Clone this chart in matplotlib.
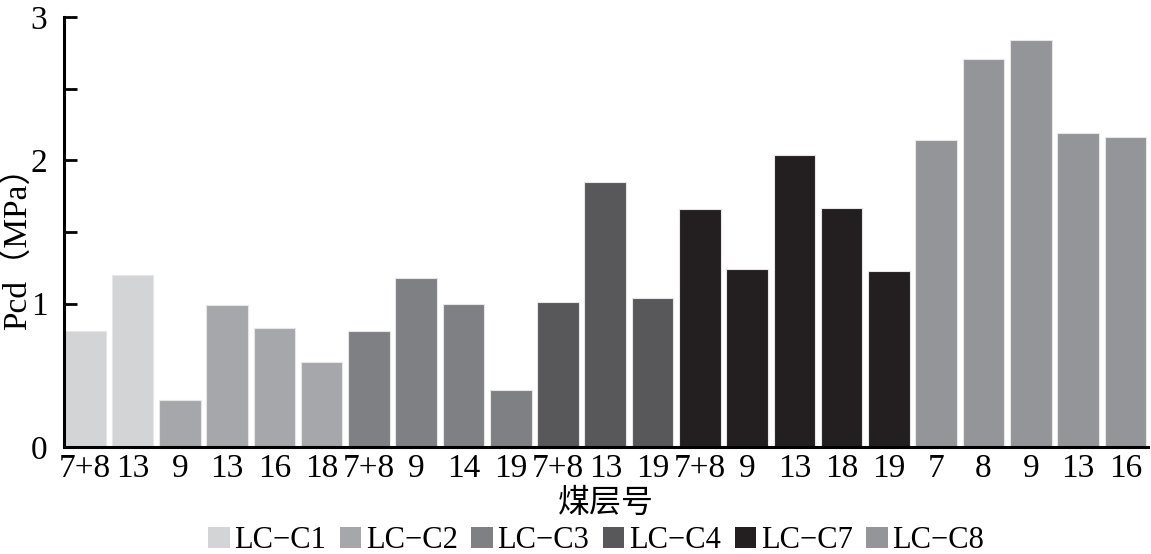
import numpy as np
import matplotlib.pyplot as plt
from matplotlib.patches import Patch
from matplotlib.ticker import MultipleLocator

plt.rcParams['font.family'] = ['Liberation Serif', 'Noto Sans CJK SC']

# seam numbers under each bar
seams = ['7+8', '13',
         '9', '13', '16', '18',
         '7+8', '9', '14', '19',
         '7+8', '13', '19',
         '7+8', '9', '13', '18', '19',
         '7', '8', '9', '13', '16']
# which borehole each bar belongs to
wells = ['LC−C1'] * 2 + ['LC−C2'] * 4 + ['LC−C3'] * 4 + ['LC−C4'] * 3 + ['LC−C7'] * 5 + ['LC−C8'] * 5
pcd = [0.81, 1.20,
       0.33, 0.99, 0.83, 0.59,
       0.81, 1.18, 1.00, 0.40,
       1.01, 1.85, 1.04,
       1.66, 1.24, 2.04, 1.67, 1.23,
       2.14, 2.71, 2.84, 2.19, 2.16]

well_names = ['LC−C1', 'LC−C2', 'LC−C3', 'LC−C4', 'LC−C7', 'LC−C8']
well_colors = ['#d3d4d6', '#a6a7aa', '#7f8083', '#58585a', '#231f20', '#939598']
cmap = dict(zip(well_names, well_colors))

fig = plt.figure(figsize=(11.51, 5.54), dpi=100)
ax = fig.add_axes([64 / 1151, 1 - 447 / 554, 1084 / 1151, 430 / 554])

x = np.arange(len(pcd))
ax.bar(x, pcd, width=0.88, color=[cmap[w] for w in wells],
       edgecolor='#e6e6e6', linewidth=0.8, zorder=2)

ax.set_xlim(-0.45, len(pcd) - 0.52)
ax.set_ylim(0, 3)
ax.set_xticks(x)
ax.set_xticklabels(seams)
ax.yaxis.set_major_locator(MultipleLocator(1))
ax.yaxis.set_minor_locator(MultipleLocator(0.5))

for s in ['top', 'right']:
    ax.spines[s].set_visible(False)
for s in ['left', 'bottom']:
    ax.spines[s].set_linewidth(2.2)
ax.tick_params(axis='both', which='both', direction='in', width=2, labelsize=24, zorder=3)
ax.tick_params(axis='x', length=9, pad=5)
ax.tick_params(axis='y', which='major', length=9, pad=12)
ax.tick_params(axis='y', which='minor', length=9)

fig.text(17 / 1151, 1 - 240 / 554, 'Pcd（MPa）', fontsize=24, rotation=90,
         ha='center', va='center')
ax.set_xlabel('煤层号', fontsize=23, labelpad=3)

handles = [Patch(facecolor=c, edgecolor='none') for c in well_colors]
fig.legend(handles, well_names, loc='center', bbox_to_anchor=(0.518, 0.024),
           ncol=6, frameon=False, fontsize=22, handlelength=0.7, handleheight=0.7,
           handletextpad=0.15, columnspacing=0.45, borderpad=0)

fig.savefig('out.png', dpi=100)
